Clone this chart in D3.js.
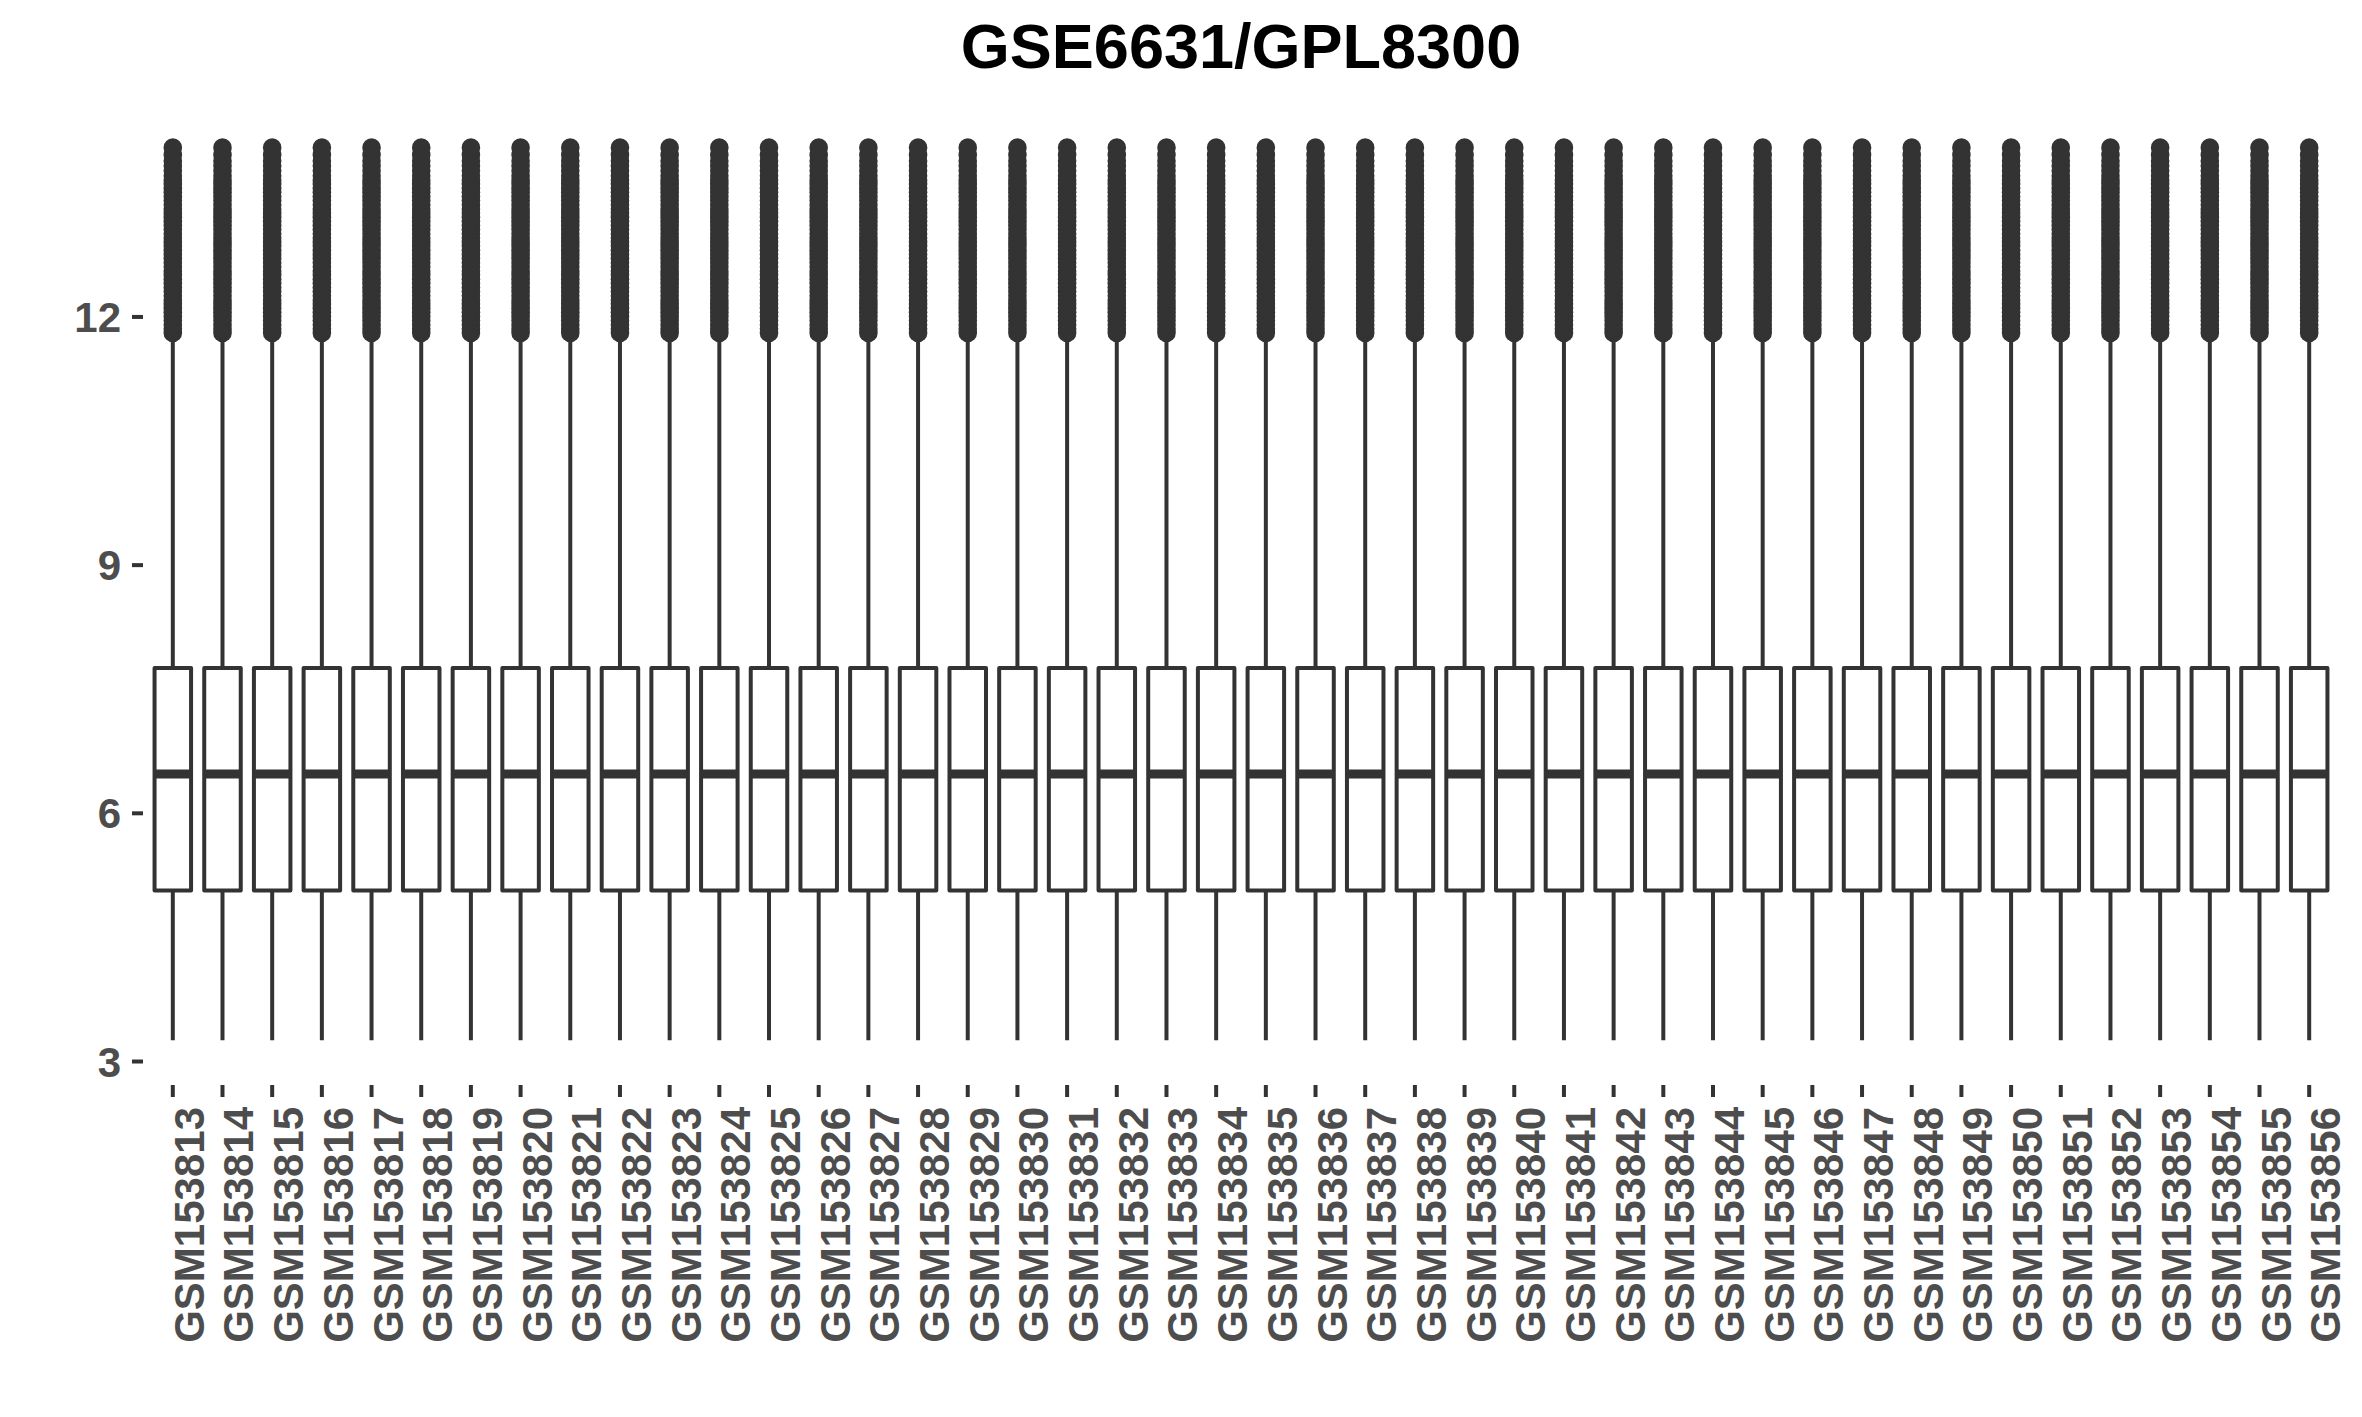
<!DOCTYPE html>
<html>
<head>
<meta charset="utf-8">
<script src="https://cdn.jsdelivr.net/npm/d3@7"></script>
<style>
  html, body { margin: 0; padding: 0; background: #ffffff; }
  svg { display: block; }
</style>
</head>
<body>
<script>
// ---- data ----
const samples = ["GSM153813","GSM153814","GSM153815","GSM153816","GSM153817","GSM153818","GSM153819","GSM153820","GSM153821","GSM153822","GSM153823","GSM153824","GSM153825","GSM153826","GSM153827","GSM153828","GSM153829","GSM153830","GSM153831","GSM153832","GSM153833","GSM153834","GSM153835","GSM153836","GSM153837","GSM153838","GSM153839","GSM153840","GSM153841","GSM153842","GSM153843","GSM153844","GSM153845","GSM153846","GSM153847","GSM153848","GSM153849","GSM153850","GSM153851","GSM153852","GSM153853","GSM153854","GSM153855","GSM153856"];
const whiskerLow  = Array(44).fill(3.25);
const q1Values    = Array(44).fill(5.06);
const medianValues= Array(44).fill(6.47);
const q3Values    = Array(44).fill(7.75);
const whiskerHigh = Array(44).fill(11.75);
// upper outliers (same for every sample after normalisation)
const outlierValues = [11.80,11.85,11.90,11.95,12.00,12.05,12.10,12.15,12.20,12.25,12.30,12.35,12.40,12.45,12.50,12.55,12.60,12.65,12.70,12.75,12.80,12.85,12.90,12.95,13.00,13.05,13.10,13.15,13.20,13.25,13.30,13.35,13.40,13.45,13.50,13.55,13.60,13.65,13.70,13.76,13.82,13.88,13.95,14.04];
const yTicks = [3, 6, 9, 12];
const titleText = "GSE6631/GPL8300";

// ---- layout ----
const W = 2362, H = 1417;
const panel = { left: 143, right: 2339, top: 103, bottom: 1085 };
const FONT = "'Liberation Sans', Arial, Helvetica, sans-serif";
const ink = "#333333", labelInk = "#4d4d4d";

const svg = d3.select("body").append("svg")
  .attr("width", W).attr("height", H)
  .style("background", "#ffffff");

const x = d3.scaleBand().domain(samples)
  .range([panel.left, panel.right])
  .paddingOuter(0.1).paddingInner(0);
const y = d3.scaleLinear().domain([2.71, 14.58]).range([panel.bottom, panel.top]);

const step = x.step();
const boxW = step * 0.735;

// title
svg.append("text")
  .attr("x", (panel.left + panel.right) / 2).attr("y", 68)
  .attr("text-anchor", "middle")
  .attr("font-family", FONT).attr("font-weight", "bold")
  .attr("font-size", 63).attr("fill", "#000000")
  .text(titleText);

// y axis
const yAxis = svg.append("g")
  .attr("transform", `translate(${panel.left},0)`)
  .call(d3.axisLeft(y).tickValues(yTicks).tickSize(11).tickPadding(11).tickFormat(d3.format("d")));
yAxis.select(".domain").remove();
yAxis.selectAll(".tick line").attr("stroke", ink).attr("stroke-width", 4);
yAxis.selectAll(".tick text")
  .attr("font-family", FONT).attr("font-weight", "bold")
  .attr("font-size", 42).attr("fill", labelInk).attr("dy", "0.36em");

// x axis
const xAxis = svg.append("g")
  .attr("transform", `translate(0,${panel.bottom})`)
  .call(d3.axisBottom(x).tickSize(12).tickPadding(10));
xAxis.select(".domain").remove();
xAxis.selectAll(".tick line").attr("stroke", ink).attr("stroke-width", 4);
xAxis.selectAll(".tick text")
  .attr("font-family", FONT).attr("font-weight", "bold")
  .attr("font-size", 42).attr("fill", labelInk)
  .attr("text-anchor", "end")
  .attr("transform", "rotate(-90)")
  .attr("x", -22).attr("y", 0).attr("dy", 31);

// boxes
const data = samples.map((s, i) => ({
  s, lo: whiskerLow[i], q1: q1Values[i], med: medianValues[i], q3: q3Values[i], hi: whiskerHigh[i]
}));

const g = svg.append("g");
const box = g.selectAll("g.box").data(data).join("g").attr("class", "box")
  .attr("transform", d => `translate(${x(d.s) + step / 2},0)`);

// outliers
box.selectAll("circle").data(() => outlierValues).join("circle")
  .attr("cx", 0).attr("cy", v => y(v)).attr("r", 9.3)
  .attr("fill", ink);

// whiskers
box.append("line").attr("x1", 0).attr("x2", 0)
  .attr("y1", d => y(d.hi)).attr("y2", d => y(d.q3))
  .attr("stroke", ink).attr("stroke-width", 4);
box.append("line").attr("x1", 0).attr("x2", 0)
  .attr("y1", d => y(d.q1)).attr("y2", d => y(d.lo))
  .attr("stroke", ink).attr("stroke-width", 4);

// box body
box.append("rect")
  .attr("x", -boxW / 2).attr("width", boxW)
  .attr("y", d => y(d.q3)).attr("height", d => y(d.q1) - y(d.q3))
  .attr("fill", "#ffffff").attr("stroke", ink).attr("stroke-width", 4)
  .attr("stroke-linejoin", "round");

// median
box.append("line")
  .attr("x1", -boxW / 2).attr("x2", boxW / 2)
  .attr("y1", d => y(d.med)).attr("y2", d => y(d.med))
  .attr("stroke", ink).attr("stroke-width", 9);
</script>
</body>
</html>
